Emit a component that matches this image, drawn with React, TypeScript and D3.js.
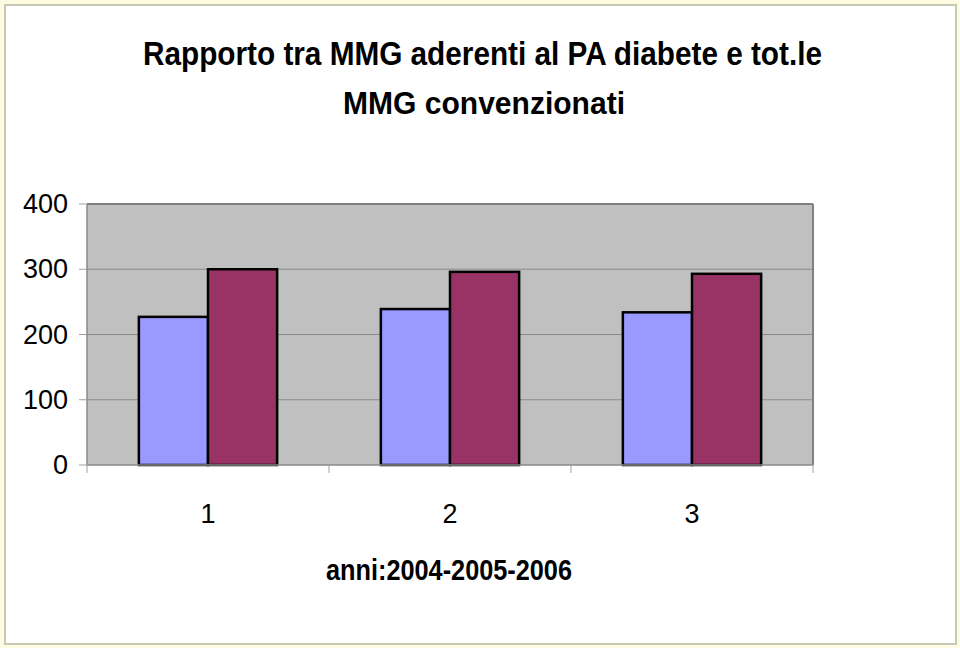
import React from "react";
import * as d3 from "d3";

const categories = ["1", "2", "3"];
const seriesA = [227, 239, 234];
const seriesB = [300, 296, 293];
const yTicks = [0, 100, 200, 300, 400];
const titleLines = ["Rapporto tra MMG aderenti al PA diabete e tot.le", "MMG convenzionati"];
const xTitle = "anni:2004-2005-2006";

const W = 960;
const H = 648;
const NARROW = "'Liberation Sans Narrow', 'Arial Narrow', 'Liberation Sans', Arial, sans-serif";

export default function App() {
  const left = 87, right = 813, top = 204, bottom = 465;
  const x = d3.scaleBand<string>().domain(categories).range([left, right]).paddingInner(0).paddingOuter(0);
  const y = d3.scaleLinear().domain([0, 400]).range([bottom, top]);
  const bw = x.bandwidth();
  const barW = bw / 3.5; // Excel gap width 150%
  const inner = d3.scaleBand<number>().domain([0, 1]).range([0, 2 * barW]);

  return (
    <svg width={W} height={H} style={{ position: "absolute", left: 0, top: 0 }}>
      <rect x={0} y={0} width={W} height={H} fill="#fdfbe2" />
      <rect x={5} y={5} width={951} height={639} fill="#ffffff" stroke="#c9c8b4" strokeWidth={2} />

      {titleLines.map((t, i) => (
        <text
          key={i}
          x={i === 0 ? 143 : 343}
          y={i === 0 ? 65 : 114}
          textLength={i === 0 ? 679 : 282}
          lengthAdjust="spacingAndGlyphs"
          fontFamily={NARROW}
          fontWeight="bold"
          fontSize={i === 0 ? 33 : 32}
          fill="#000"
        >
          {t}
        </text>
      ))}

      {/* plot area */}
      <rect x={left} y={top} width={right - left} height={bottom - top} fill="#c0c0c0" />
      {yTicks.filter((v) => v > 0).map((v) => (
        <line key={v} x1={left} x2={right} y1={y(v)} y2={y(v)} stroke="#8a8a8a" strokeWidth={1} />
      ))}
      <line x1={left} x2={right} y1={top} y2={top} stroke="#808080" strokeWidth={2} />
      <line x1={right} x2={right} y1={top} y2={bottom} stroke="#808080" strokeWidth={2} />
      <line x1={left} x2={left} y1={top} y2={bottom} stroke="#8a8a8a" strokeWidth={1.5} />

      {/* y ticks */}
      {yTicks.map((v) => (
        <g key={v}>
          <line x1={left - 8} x2={left} y1={y(v)} y2={y(v)} stroke="#a0a0a0" strokeWidth={1} />
          <text x={68} y={y(v) + 9} textAnchor="end" fontFamily={NARROW} fontSize={27} fill="#000">
            {v}
          </text>
        </g>
      ))}

      {/* bars */}
      {categories.map((c, i) => {
        const x0 = (x(c) as number) + (bw - 2 * barW) / 2;
        return (
          <g key={c}>
            <rect
              x={x0 + (inner(0) as number)}
              y={y(seriesA[i])}
              width={barW}
              height={bottom - y(seriesA[i])}
              fill="#9999ff"
              stroke="#000"
              strokeWidth={2.5}
            />
            <rect
              x={x0 + (inner(1) as number)}
              y={y(seriesB[i])}
              width={barW}
              height={bottom - y(seriesB[i])}
              fill="#993366"
              stroke="#000"
              strokeWidth={2.5}
            />
          </g>
        );
      })}

      {/* x axis */}
      <line x1={left} x2={right} y1={bottom} y2={bottom} stroke="#8a8a8a" strokeWidth={1.5} />
      {[...categories.map((c) => x(c) as number), right].map((xv, i) => (
        <line key={i} x1={xv} x2={xv} y1={bottom} y2={bottom + 8} stroke="#a0a0a0" strokeWidth={1} />
      ))}
      {categories.map((c) => (
        <text
          key={c}
          x={(x(c) as number) + bw / 2}
          y={523}
          textAnchor="middle"
          fontFamily={NARROW}
          fontSize={27}
          fill="#000"
        >
          {c}
        </text>
      ))}
      <text
        x={326}
        y={580}
        textLength={246}
        lengthAdjust="spacingAndGlyphs"
        fontFamily={NARROW}
        fontWeight="bold"
        fontSize={29}
        fill="#000"
      >
        {xTitle}
      </text>
    </svg>
  );
}
